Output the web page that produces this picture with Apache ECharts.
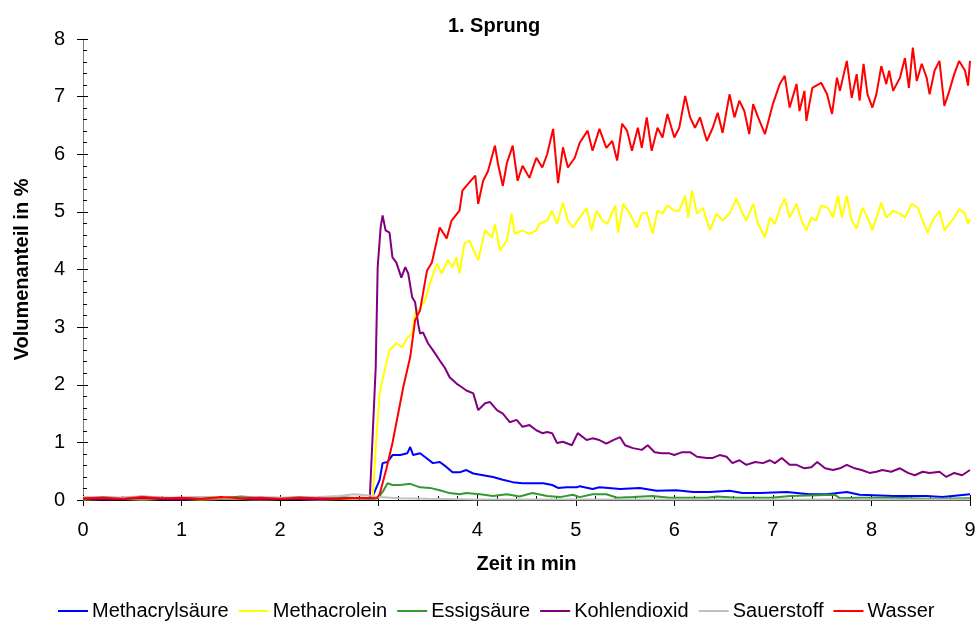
<!DOCTYPE html>
<html><head><meta charset="utf-8">
<script src="https://cdn.jsdelivr.net/npm/echarts@6/dist/echarts.min.js"></script>
<style>html,body{margin:0;padding:0;background:#fff}#c{width:979px;height:621px}</style>
</head><body><div id="c"></div>
<script>
const seriesNames = ['Methacrylsäure','Methacrolein','Essigsäure','Kohlendioxid','Sauerstoff','Wasser'];
const xTicks = [0,1,2,3,4,5,6,7,8,9];
const yTicks = [0,1,2,3,4,5,6,7,8];

const methacrylsaeure = [[0,0.02],[0.3,0.03],[0.6,0.01],[0.9,0.03],[1.2,0.02],[1.5,0.04],[1.8,0.02],[2.1,0.03],[2.4,0.01],[2.7,0.03],[2.93,0.03],[3.01,0.35],[3.04,0.64],[3.09,0.66],[3.14,0.78],[3.22,0.78],[3.29,0.81],[3.32,0.92],[3.35,0.78],[3.42,0.81],[3.49,0.72],[3.55,0.64],[3.62,0.66],[3.69,0.57],[3.75,0.48],[3.82,0.48],[3.89,0.52],[3.96,0.46],[4.06,0.43],[4.16,0.40],[4.26,0.35],[4.36,0.31],[4.46,0.29],[4.56,0.29],[4.67,0.29],[4.76,0.26],[4.82,0.21],[4.91,0.22],[5.01,0.22],[5.04,0.24],[5.17,0.19],[5.24,0.22],[5.45,0.19],[5.65,0.21],[5.82,0.16],[6.02,0.17],[6.19,0.14],[6.36,0.14],[6.56,0.16],[6.69,0.12],[6.87,0.12],[7.14,0.14],[7.37,0.10],[7.55,0.10],[7.75,0.14],[7.88,0.09],[8.22,0.07],[8.56,0.07],[8.72,0.05],[9.00,0.10]];

const methacrolein = [[0,0.01],[0.3,0.02],[0.6,0.01],[0.9,0.02],[1.2,0.01],[1.5,0.02],[1.8,0.01],[2.1,0.02],[2.4,0.01],[2.7,0.02],[2.94,0.03],[2.98,1.16],[3.01,1.85],[3.06,2.25],[3.11,2.6],[3.18,2.72],[3.24,2.65],[3.29,2.81],[3.34,2.89],[3.37,3.24],[3.42,3.34],[3.47,3.46],[3.52,3.75],[3.59,4.10],[3.64,3.93],[3.70,4.16],[3.75,4.04],[3.79,4.21],[3.82,3.93],[3.87,4.45],[3.92,4.5],[4.01,4.16],[4.08,4.68],[4.15,4.56],[4.18,4.79],[4.23,4.33],[4.30,4.5],[4.35,4.97],[4.38,4.62],[4.46,4.68],[4.53,4.62],[4.60,4.68],[4.63,4.79],[4.71,4.85],[4.76,5.02],[4.81,4.79],[4.87,5.16],[4.92,4.85],[4.97,4.73],[5.04,4.90],[5.11,5.07],[5.16,4.68],[5.21,5.02],[5.27,4.85],[5.32,4.79],[5.40,5.11],[5.43,4.64],[5.48,5.14],[5.55,4.97],[5.62,4.73],[5.67,4.97],[5.72,4.99],[5.78,4.62],[5.83,5.02],[5.88,4.97],[5.93,5.11],[6.00,5.02],[6.05,5.02],[6.11,5.28],[6.14,4.90],[6.18,5.37],[6.23,4.97],[6.29,5.07],[6.36,4.68],[6.43,4.97],[6.49,4.85],[6.56,4.97],[6.63,5.23],[6.68,5.02],[6.73,4.85],[6.80,5.14],[6.85,4.79],[6.92,4.56],[6.97,4.90],[7.02,4.79],[7.07,5.05],[7.12,5.23],[7.17,4.90],[7.24,5.14],[7.29,4.85],[7.34,4.68],[7.39,4.90],[7.44,4.85],[7.49,5.11],[7.56,5.07],[7.61,4.90],[7.66,5.28],[7.70,4.90],[7.75,5.28],[7.80,4.85],[7.85,4.71],[7.91,5.07],[7.96,4.90],[8.01,4.68],[8.10,5.16],[8.15,4.90],[8.22,5.02],[8.29,4.97],[8.34,4.90],[8.41,5.14],[8.47,5.07],[8.52,4.85],[8.57,4.64],[8.62,4.85],[8.69,5.02],[8.74,4.68],[8.79,4.79],[8.84,4.90],[8.89,5.05],[8.95,4.97],[8.98,4.79],[9.00,4.88]];

const essigsaeure = [[0,0.03],[0.2,0.05],[0.4,0.03],[0.6,0.06],[0.8,0.04],[1.0,0.03],[1.2,0.05],[1.4,0.03],[1.6,0.06],[1.8,0.04],[2.0,0.03],[2.2,0.05],[2.4,0.03],[2.6,0.05],[2.8,0.03],[2.94,0.02],[2.99,0.03],[3.04,0.14],[3.09,0.29],[3.14,0.26],[3.22,0.26],[3.32,0.28],[3.42,0.22],[3.52,0.21],[3.62,0.17],[3.72,0.12],[3.82,0.10],[3.89,0.12],[4.03,0.10],[4.16,0.07],[4.30,0.10],[4.43,0.06],[4.56,0.12],[4.71,0.07],[4.84,0.05],[4.97,0.09],[5.04,0.05],[5.17,0.10],[5.31,0.10],[5.42,0.04],[5.58,0.05],[5.78,0.07],[5.95,0.04],[6.19,0.04],[6.33,0.04],[6.43,0.06],[6.63,0.04],[6.98,0.04],[7.18,0.07],[7.63,0.09],[7.68,0.03],[7.88,0.04],[8.22,0.04],[8.56,0.02],[9.00,0.03]];

const kohlendioxid = [[0,0.02],[0.3,0.01],[0.6,0.03],[0.9,0.01],[1.2,0.02],[1.5,0.03],[1.8,0.01],[2.1,0.02],[2.4,0.01],[2.7,0.03],[2.91,0.03],[2.94,1.16],[2.97,2.3],[2.99,4.04],[3.02,4.73],[3.04,4.94],[3.07,4.68],[3.11,4.64],[3.14,4.21],[3.18,4.12],[3.23,3.86],[3.27,4.04],[3.30,3.93],[3.34,3.52],[3.37,3.43],[3.40,3.06],[3.42,2.89],[3.45,2.91],[3.50,2.72],[3.55,2.6],[3.62,2.42],[3.67,2.3],[3.72,2.13],[3.79,2.02],[3.84,1.96],[3.89,1.9],[3.96,1.85],[4.01,1.56],[4.08,1.68],[4.13,1.7],[4.20,1.56],[4.26,1.5],[4.33,1.35],[4.40,1.39],[4.46,1.27],[4.53,1.3],[4.60,1.21],[4.66,1.16],[4.71,1.18],[4.76,1.16],[4.81,0.99],[4.87,1.01],[4.96,0.95],[5.02,1.16],[5.11,1.04],[5.17,1.07],[5.24,1.04],[5.31,0.98],[5.38,1.04],[5.45,1.09],[5.50,0.95],[5.58,0.9],[5.67,0.87],[5.73,0.95],[5.80,0.83],[5.87,0.81],[5.95,0.81],[6.00,0.78],[6.08,0.83],[6.16,0.83],[6.23,0.75],[6.33,0.73],[6.39,0.73],[6.46,0.78],[6.53,0.75],[6.59,0.64],[6.66,0.69],[6.73,0.61],[6.82,0.66],[6.90,0.64],[6.97,0.69],[7.02,0.64],[7.09,0.73],[7.17,0.61],[7.24,0.61],[7.32,0.55],[7.39,0.57],[7.45,0.66],[7.53,0.55],[7.61,0.52],[7.68,0.55],[7.75,0.61],[7.83,0.55],[7.90,0.52],[7.98,0.47],[8.05,0.49],[8.11,0.52],[8.20,0.49],[8.29,0.55],[8.37,0.47],[8.44,0.43],[8.52,0.49],[8.59,0.47],[8.69,0.49],[8.76,0.40],[8.84,0.47],[8.92,0.43],[9.00,0.52]];

const sauerstoff = [[0,0.05],[0.3,0.04],[0.6,0.06],[0.9,0.04],[1.2,0.05],[1.5,0.03],[1.8,0.05],[2.1,0.04],[2.4,0.05],[2.6,0.07],[2.75,0.10],[2.9,0.08],[3.0,0.05],[3.2,0.03],[3.5,0.02],[4.0,0.01],[5.0,0.01],[6.0,0.01],[7.0,0.01],[8.0,0.01],[9.0,0.01]];

const wasser = [[0,0.03],[0.2,0.04],[0.4,0.02],[0.6,0.05],[0.8,0.03],[1.0,0.04],[1.2,0.02],[1.4,0.05],[1.6,0.03],[1.8,0.04],[2.0,0.02],[2.2,0.04],[2.4,0.03],[2.6,0.02],[2.8,0.04],[2.98,0.03],[3.01,0.1],[3.08,0.55],[3.14,0.99],[3.25,1.96],[3.32,2.48],[3.37,3.12],[3.42,3.29],[3.49,3.98],[3.54,4.12],[3.62,4.73],[3.69,4.54],[3.74,4.85],[3.82,5.02],[3.85,5.37],[3.89,5.45],[3.98,5.63],[4.01,5.14],[4.06,5.54],[4.11,5.71],[4.18,6.15],[4.21,5.84],[4.26,5.45],[4.30,5.84],[4.36,6.15],[4.41,5.54],[4.46,5.80],[4.53,5.59],[4.60,5.94],[4.66,5.77],[4.71,6.0],[4.77,6.44],[4.82,5.5],[4.87,6.12],[4.92,5.77],[4.99,5.94],[5.04,6.2],[5.12,6.41],[5.17,6.06],[5.24,6.44],[5.31,6.11],[5.37,6.23],[5.42,5.89],[5.47,6.53],[5.52,6.41],[5.57,6.06],[5.63,6.46],[5.67,6.11],[5.72,6.64],[5.77,6.06],[5.83,6.46],[5.88,6.29],[5.93,6.70],[6.00,6.29],[6.05,6.46],[6.11,7.01],[6.16,6.64],[6.21,6.46],[6.26,6.64],[6.33,6.23],[6.39,6.46],[6.44,6.72],[6.49,6.37],[6.56,7.04],[6.61,6.64],[6.66,6.93],[6.71,6.75],[6.76,6.35],[6.80,6.87],[6.85,6.64],[6.92,6.35],[7.00,6.87],[7.07,7.22],[7.12,7.36],[7.17,6.81],[7.24,7.22],[7.27,6.75],[7.32,7.10],[7.34,6.58],[7.40,7.15],[7.49,7.24],[7.55,7.04],[7.60,6.70],[7.65,7.33],[7.68,7.10],[7.75,7.62],[7.80,6.98],[7.85,7.39],[7.88,6.93],[7.92,7.57],[7.96,7.04],[8.01,6.81],[8.05,7.04],[8.10,7.53],[8.15,7.22],[8.18,7.45],[8.22,7.10],[8.29,7.33],[8.34,7.67],[8.38,7.15],[8.42,7.85],[8.46,7.27],[8.51,7.57],[8.56,7.33],[8.59,7.04],[8.64,7.45],[8.69,7.62],[8.74,6.84],[8.79,7.10],[8.84,7.39],[8.89,7.62],[8.95,7.45],[8.98,7.19],[9.00,7.62]];

const seriesData = [methacrylsaeure, methacrolein, essigsaeure, kohlendioxid, sauerstoff, wasser];
const colors = ['#0000FF','#FFFF00','#339933','#800080','#C0C0C0','#FF0000'];

const FONT = '"Liberation Sans", Arial, sans-serif';
const chart = echarts.init(document.getElementById('c'), null, {renderer:'canvas'});

const baseX = {type:'value', min:xTicks[0], max:xTicks[xTicks.length-1], interval:1, gridIndex:0};
const baseY = {type:'value', min:yTicks[0], max:yTicks[yTicks.length-1], interval:1, gridIndex:0};

chart.setOption({
  animation:false,
  backgroundColor:'#fff',
  color: colors,
  title:{text:'1. Sprung', left:489, top:11, textAlign:'center',
    textStyle:{fontFamily:FONT, fontSize:20, fontWeight:'bold', color:'#000'}},
  grid:{left:83, right:9, top:39, bottom:121, containLabel:false},
  legend:{top:596, left:53, itemWidth:30, itemHeight:12, itemGap:10,
    icon:'path://M0,5 L30,5 L30,7 L0,7 Z',
    textStyle:{fontFamily:FONT, fontSize:20, color:'#000', padding:[0,0,0,-1]},
    data: seriesNames},
  xAxis:[
    Object.assign({}, baseX, {
      name:'Zeit in min', nameLocation:'middle', nameGap:54,
      nameTextStyle:{fontFamily:FONT, fontSize:20, fontWeight:'bold', color:'#000'},
      axisLine:{show:true, onZero:false, lineStyle:{color:'#000', width:1}},
      axisTick:{show:true, inside:false, length:6, lineStyle:{color:'#000'}},
      axisLabel:{fontFamily:FONT, fontSize:20, color:'#000', margin:20},
      splitLine:{show:false}
    }),
    Object.assign({}, baseX, {
      position:'bottom',
      axisLine:{show:false, onZero:false},
      axisTick:{show:true, inside:true, length:5, lineStyle:{color:'#000'}},
      minorTick:{show:true, splitNumber:5, length:4, lineStyle:{color:'#000'}},
      axisLabel:{show:false}, splitLine:{show:false}
    })
  ],
  yAxis:[
    Object.assign({}, baseY, {
      name:'Volumenanteil in %', nameLocation:'middle', nameGap:51, nameRotate:90,
      nameTextStyle:{fontFamily:FONT, fontSize:20, fontWeight:'bold', color:'#000'},
      axisLine:{show:true, onZero:false, lineStyle:{color:'#808080', width:1}},
      axisTick:{show:true, inside:false, length:6, lineStyle:{color:'#000'}},
      axisLabel:{fontFamily:FONT, fontSize:20, color:'#000', margin:18},
      splitLine:{show:false}
    }),
    Object.assign({}, baseY, {
      position:'left',
      axisLine:{show:false, onZero:false},
      axisTick:{show:true, inside:true, length:5, lineStyle:{color:'#000'}},
      minorTick:{show:true, splitNumber:5, length:4, lineStyle:{color:'#000'}},
      axisLabel:{show:false}, splitLine:{show:false}
    })
  ],
  series: seriesNames.map((n,i)=>({
    name:n, type:'line', data:seriesData[i], xAxisIndex:0, yAxisIndex:0,
    showSymbol:false, symbol:'none', smooth:false,
    lineStyle:{width:2, color:colors[i]}, itemStyle:{color:colors[i]},
    z: 2+i
  }))
});
</script></body></html>
